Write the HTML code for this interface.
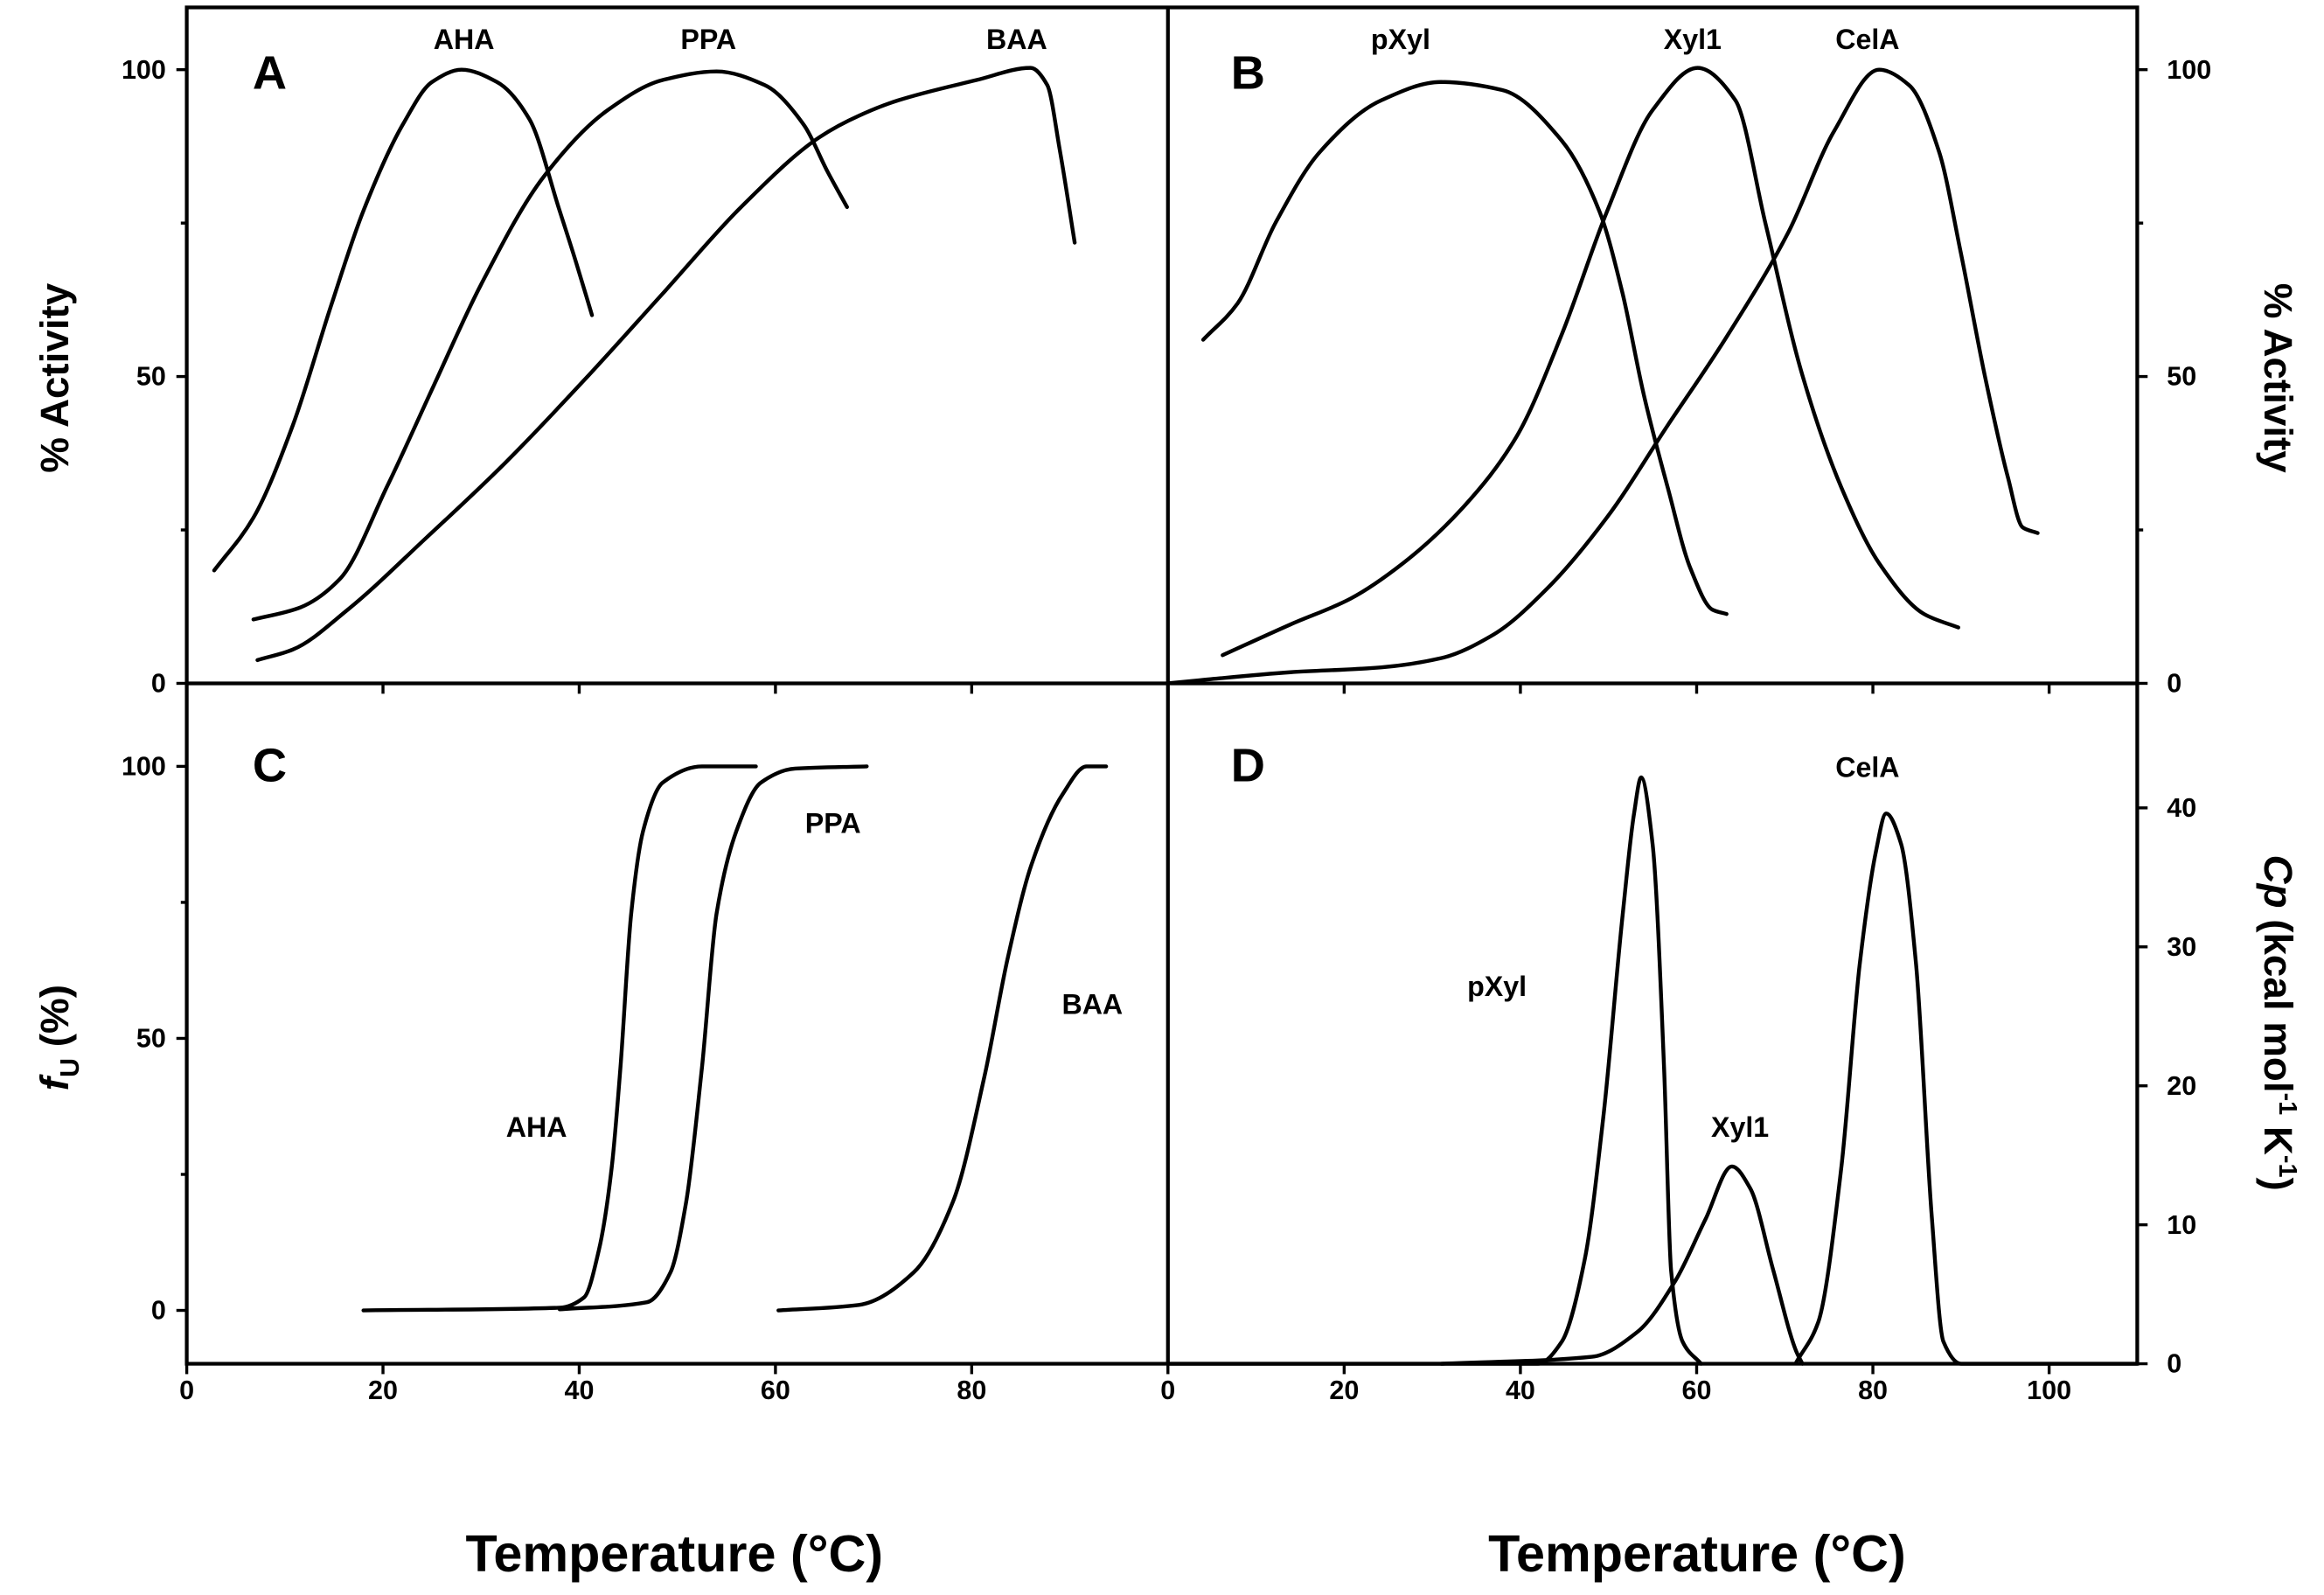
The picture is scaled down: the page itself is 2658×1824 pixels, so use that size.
<!DOCTYPE html>
<html><head><meta charset="utf-8"><style>
html,body{margin:0;padding:0;background:#fff;}
svg{display:block;}
text{font-family:"Liberation Sans",Arial,sans-serif;font-weight:bold;fill:#000;}
</style></head><body>
<svg id="chart" width="2658" height="1824" viewBox="0 0 1568 1076" preserveAspectRatio="none" xmlns="http://www.w3.org/2000/svg"></svg>
<script>
// ---- data ----
const xTicksLeft = [0,20,40,60,80];
const xTicksRight = [0,20,40,60,80,100];
const yTicksActivity = [0,50,100];
const yTicksFu = [0,50,100];
const yTicksCp = [0,10,20,30,40];

const aAHA_T = [2.8,6.8,10.8,14.8,18,22,25,28,31.6,34.9,38,39.7,41.3];
const aAHA_V = [18.4,27,42,62,77,91,98,100,98,92,77,68.5,60];
const aPPA_T = [6.8,11.6,15.6,20.4,25.2,30,36.4,42.9,48.5,54,58.9,62.9,65.3,67.3];
const aPPA_V = [10.4,12.4,17,32,48.6,65,82.6,93.4,98.3,99.7,97.5,91,83.4,77.6];
const aBAA_T = [7.2,10.8,16.4,24.4,32.5,40.5,48.5,56.5,64.5,68.5,72.5,80.5,86,87.7,89,90.5];
const aBAA_V = [3.8,5.5,12,23.7,36,49.4,63.5,77.6,89,92.5,95,98.3,100.3,97.5,86.7,71.8];

const bPXYL_T = [4,7.9,12.2,17.3,24.2,31,37.9,44.7,49,51.6,54,56.7,59.3,61.8,63.4];
const bPXYL_V = [56,61.9,75,86.7,95,98,96.7,88.4,76.8,63.5,47,32,18.7,12,11.3];
const bXYL1_T = [6.2,13.9,20.7,26.7,33.5,39.6,44.7,49.8,55,60.1,64.4,67.8,72,76.4,80.7,85.8,89.7];
const bXYL1_V = [4.6,9.6,13.8,19.6,28.7,40.3,56.9,76.8,93.4,100.3,95,75,50.2,32,19.6,11.3,9.1];
const bCELA_T = [0,3.6,13.9,24.2,31,37,43,49.8,56.7,63.6,70.4,75.6,80.7,84.1,87.5,90,92.7,95.3,97,98.7];
const bCELA_V = [0,0.5,1.8,2.6,4.1,8,15.4,27,42,56.9,73.5,90,100,97.5,86.7,70,50.2,33.7,25.4,24.5];

const cAHA_T = [18,38,40.5,42,43.3,44.2,45.3,46.5,48.5,52.5,58];
const cAHA_V = [0,0.5,2.4,11,26,44.6,73,88,97,100,100];
const cPPA_T = [38,46.9,49.3,50.9,52.5,54,56,58.5,62,69.3];
const cPPA_V = [0.2,1.5,7,20,44.6,73,88,97,99.6,100];
const cBAA_T = [60.3,68.5,74.1,78.1,81.3,83.7,86.1,89.3,91.7,93.7];
const cBAA_V = [0,1,7,20,43,65,82,95,100,100];

const dPXYL_T = [0,42,44.7,47.3,49.4,51.6,52.9,53.7,55,56.3,57.1,58.4,60.5];
const dPXYL_V = [0,0,1.6,7.5,17.7,32.3,39.6,42.2,37.4,21.4,6.7,1.6,0];
const dXYL1_T = [31,48.1,53.3,57.6,61,64,66.1,68.7,71.3,72];
const dXYL1_V = [0,0.5,2.3,6,10.4,14.2,12.6,6.7,0.9,0];
const dCELA_T = [71.3,73.8,76.4,78.5,80.3,81.5,83.2,84.9,86.7,88,90,110];
const dCELA_V = [0.1,3,14,28.7,36.7,39.6,37.4,28.7,10.4,1.6,0,0];

// ---- frame geometry ----
const L=126, MIDX=788, R=1442, TOP=5, MIDY=461, BOT=920;
const xLeft = t => L + t*(MIDX-L)/100;
const xRight = t => MIDX + t*(R-MIDX)/110;
const yA = v => 461 - v*4.14;
const yC = v => 884 - v*3.67;
const yD = v => 920 - v*9.375;

const svg = document.getElementById('chart');
const NS='http://www.w3.org/2000/svg';
function mk(tag, attrs, parent){const e=document.createElementNS(NS,tag);for(const k in attrs)e.setAttribute(k,attrs[k]);(parent||svg).appendChild(e);return e;}
function txt(s,x,y,size,anchor,name,extra){const e=mk('text',Object.assign({x:x,y:y,'font-size':size,'text-anchor':anchor||'middle'},extra||{}));e.textContent=s;


return e;}

// monotone cubic (Fritsch-Carlson) in pixel space; x strictly increasing
function smoothPath(pts){
  const n=pts.length;
  const dx=[],s=[];
  for(let i=0;i<n-1;i++){dx[i]=pts[i+1][0]-pts[i][0];s[i]=(pts[i+1][1]-pts[i][1])/dx[i];}
  const m=[];
  m[0]=s[0];m[n-1]=s[n-2];
  for(let i=1;i<n-1;i++){
    if(s[i-1]*s[i]<=0) m[i]=0;
    else {const w1=2*dx[i]+dx[i-1],w2=dx[i]+2*dx[i-1];m[i]=(w1+w2)/(w1/s[i-1]+w2/s[i]);}
  }
  let d='M'+pts[0][0].toFixed(1)+','+pts[0][1].toFixed(1);
  for(let i=0;i<n-1;i++){
    const h=dx[i]/3;
    d+=' C'+(pts[i][0]+h).toFixed(1)+','+(pts[i][1]+m[i]*h).toFixed(1)+' '+(pts[i+1][0]-h).toFixed(1)+','+(pts[i+1][1]-m[i+1]*h).toFixed(1)+' '+pts[i+1][0].toFixed(1)+','+pts[i+1][1].toFixed(1);
  }
  return d;
}
function series(T,V,fx,fy,name){
  const pts=T.map((t,i)=>[fx(t),fy(V[i])]);
  const p=mk('path',{d:smoothPath(pts),fill:'none',stroke:'#000','stroke-width':2.6,'stroke-linejoin':'round','stroke-linecap':'round'});
  
  
}

// frame
const frame=mk('rect',{x:L,y:TOP,width:R-L,height:BOT-TOP,fill:'none',stroke:'#000','stroke-width':2.5});


const vdiv=mk('line',{x1:MIDX,y1:TOP,x2:MIDX,y2:BOT,stroke:'#000','stroke-width':2.5});


const hdiv=mk('line',{x1:L,y1:MIDY,x2:R,y2:MIDY,stroke:'#000','stroke-width':2.5});



function tick(x1,y1,x2,y2,name){const t=mk('line',{x1:x1,y1:y1,x2:x2,y2:y2,stroke:'#000','stroke-width':2});

}

// x ticks & labels
xTicksLeft.forEach(t=>{const x=xLeft(t);tick(x,BOT,x,BOT+7,'x-tick');tick(x,MIDY,x,MIDY+7,'x-tick-mid');txt(String(t),x,944,18,'middle','x-tick-label');});
xTicksRight.forEach(t=>{const x=xRight(t);tick(x,BOT,x,BOT+7,'x-tick');tick(x,MIDY,x,MIDY+7,'x-tick-mid');txt(String(t),x,944,18,'middle','x-tick-label');});
// y ticks
yTicksActivity.forEach(v=>{const y=yA(v);tick(L-7,y,L,y,'y-tick');txt(String(v),112,y+6,18,'end','y-tick-label-a');tick(R,y,R+7,y,'y-tick');txt(String(v),1462,y+6,18,'start','y-tick-label-b');});
[25,75].forEach(v=>{tick(L-4,yA(v),L,yA(v),'y-minor-tick');tick(R,yA(v),R+4,yA(v),'y-minor-tick');});
yTicksFu.forEach(v=>{const y=yC(v);tick(L-7,y,L,y,'y-tick');txt(String(v),112,y+6,18,'end','y-tick-label-c');});
[25,75].forEach(v=>tick(L-4,yC(v),L,yC(v),'y-minor-tick'));
yTicksCp.forEach(v=>{const y=yD(v);tick(R,y,R+7,y,'y-tick');txt(String(v),1462,y+6,18,'start','y-tick-label-d');});

// series
series(aAHA_T,aAHA_V,xLeft,yA,'curve-a-aha');
series(aPPA_T,aPPA_V,xLeft,yA,'curve-a-ppa');
series(aBAA_T,aBAA_V,xLeft,yA,'curve-a-baa');
series(bPXYL_T,bPXYL_V,xRight,yA,'curve-b-pxyl');
series(bXYL1_T,bXYL1_V,xRight,yA,'curve-b-xyl1');
series(bCELA_T,bCELA_V,xRight,yA,'curve-b-cela');
series(cAHA_T,cAHA_V,xLeft,yC,'curve-c-aha');
series(cPPA_T,cPPA_V,xLeft,yC,'curve-c-ppa');
series(cBAA_T,cBAA_V,xLeft,yC,'curve-c-baa');
series(dPXYL_T,dPXYL_V,xRight,yD,'curve-d-pxyl');
series(dXYL1_T,dXYL1_V,xRight,yD,'curve-d-xyl1');
series(dCELA_T,dCELA_V,xRight,yD,'curve-d-cela');

// panel letters and curve labels
txt('A',182,60,32,'middle','panel-label-a');
txt('B',842,60,32,'middle','panel-label-b');
txt('C',182,527,32,'middle','panel-label-c');
txt('D',842,527,32,'middle','panel-label-d');
txt('AHA',313,33,19,'middle','label-a-aha');
txt('PPA',478,33,19,'middle','label-a-ppa');
txt('BAA',686,33,19,'middle','label-a-baa');
txt('pXyl',945,33,19,'middle','label-b-pxyl');
txt('Xyl1',1142,33,19,'middle','label-b-xyl1');
txt('CelA',1260,33,19,'middle','label-b-cela');
txt('PPA',562,562,19,'middle','label-c-ppa');
txt('AHA',362,767,19,'middle','label-c-aha');
txt('BAA',737,684,19,'middle','label-c-baa');
txt('CelA',1260,524,19,'middle','label-d-cela');
txt('pXyl',1010,672,19,'middle','label-d-pxyl');
txt('Xyl1',1174,767,19,'middle','label-d-xyl1');

// axis titles
txt('% Activity',0,0,27,'middle','y-axis-title-a',{transform:'translate(46,255) rotate(-90)'});
const fu=txt('',0,0,27,'middle','y-axis-title-c',{transform:'translate(46,700) rotate(-90)'});
fu.innerHTML='<tspan font-style="italic">f</tspan><tspan font-size="18" dy="7">U</tspan><tspan dy="-7"> (%)</tspan>';
txt('% Activity',0,0,27,'middle','y-axis-title-b',{transform:'translate(1528,255) rotate(90)'});
const cp=txt('',0,0,27,'middle','y-axis-title-d',{transform:'translate(1528,690) rotate(90)'});
cp.innerHTML='<tspan font-style="italic">Cp</tspan> (kcal mol<tspan font-size="17" dy="-10">-1</tspan><tspan dy="10"> K</tspan><tspan font-size="17" dy="-10">-1</tspan><tspan dy="10">)</tspan>';
txt('Temperature (°C)',455,1060,35,'middle','x-axis-title-left');
txt('Temperature (°C)',1145,1060,35,'middle','x-axis-title-right');
</script>
</body></html>
